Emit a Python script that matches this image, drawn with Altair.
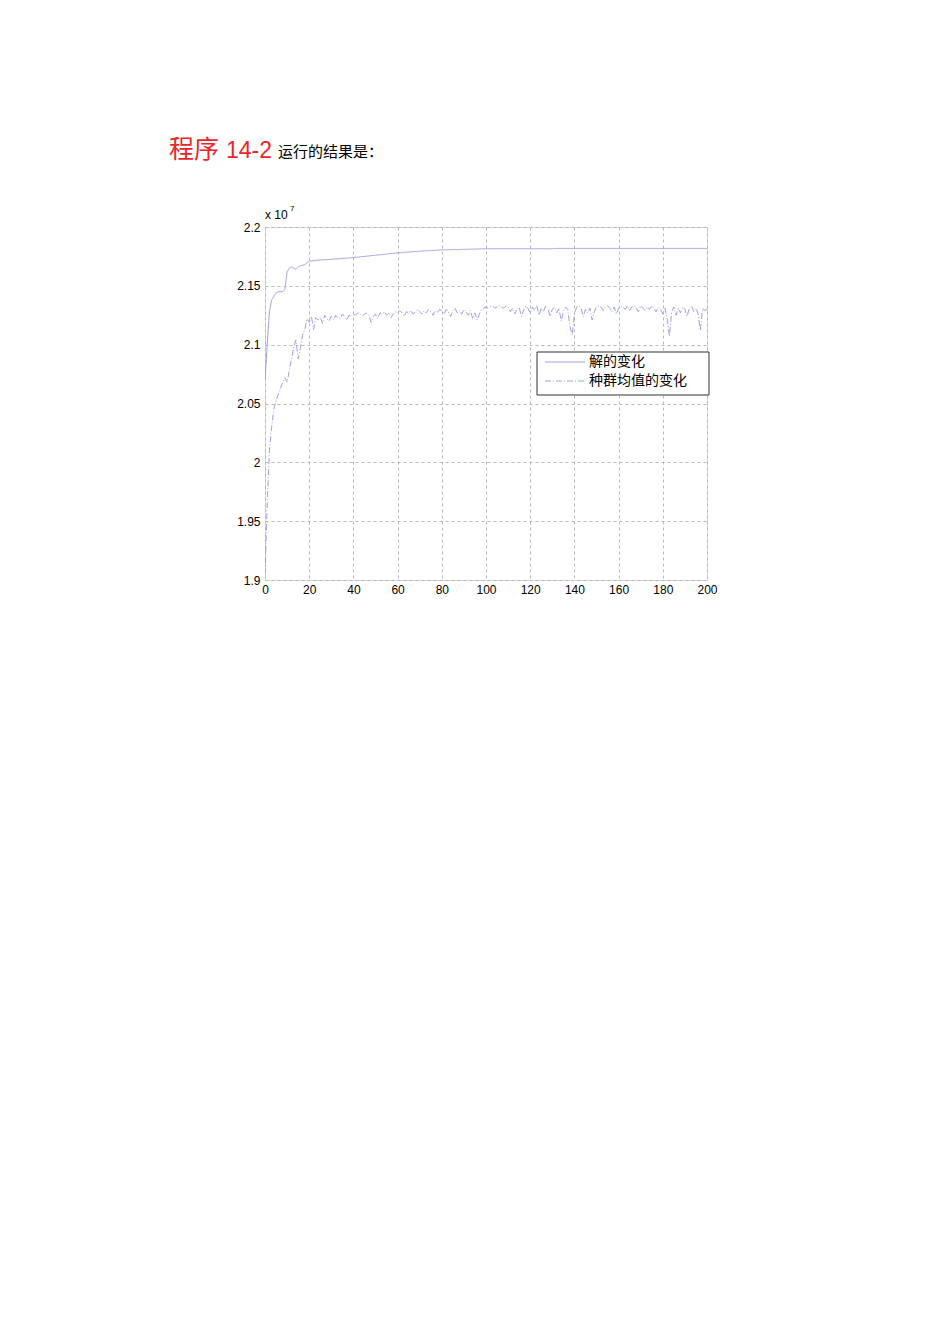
import altair as alt
import pandas as pd

# Generations and values (in units of 1e7)
mean_values = [
    1.905, 1.965, 2.010, 2.030, 2.045, 2.052, 2.058, 2.063, 2.068, 2.072,
    2.068, 2.078, 2.088, 2.098, 2.104, 2.088, 2.097, 2.108, 2.113, 2.122,
    2.119, 2.124, 2.113, 2.123, 2.121, 2.124, 2.118, 2.125, 2.122, 2.120,
    2.124, 2.121, 2.125, 2.123, 2.122, 2.126, 2.124, 2.121, 2.125, 2.124,
    2.126, 2.125, 2.127, 2.126, 2.124, 2.126, 2.127, 2.125, 2.119, 2.124,
    2.126, 2.122, 2.127, 2.126, 2.128, 2.125, 2.127, 2.123, 2.126, 2.128,
    2.127, 2.129, 2.127, 2.124, 2.128, 2.127, 2.129, 2.126, 2.128, 2.130,
    2.128, 2.126, 2.129, 2.127, 2.130, 2.128, 2.125, 2.129, 2.127, 2.130,
    2.129, 2.126, 2.130, 2.128, 2.124, 2.129, 2.131, 2.127, 2.129, 2.126,
    2.130, 2.128, 2.125, 2.129, 2.122, 2.127, 2.121, 2.126, 2.130, 2.131,
    2.132, 2.131, 2.132, 2.133, 2.131, 2.132, 2.133, 2.132, 2.131, 2.133,
    2.132, 2.128, 2.131, 2.126, 2.130, 2.132, 2.124, 2.129, 2.133, 2.131,
    2.127, 2.132, 2.129, 2.133, 2.125, 2.131, 2.128, 2.133, 2.131, 2.124,
    2.130, 2.132, 2.127, 2.131, 2.120, 2.128, 2.132, 2.130, 2.115, 2.108,
    2.126, 2.132, 2.133, 2.131, 2.124, 2.130, 2.127, 2.131, 2.121, 2.128,
    2.132, 2.133, 2.132, 2.129, 2.132, 2.133, 2.131, 2.128, 2.132, 2.126,
    2.131, 2.133, 2.132, 2.130, 2.133, 2.129, 2.132, 2.133, 2.131, 2.128,
    2.133, 2.131, 2.129, 2.132, 2.130, 2.133, 2.131, 2.128, 2.132, 2.130,
    2.126, 2.131, 2.122, 2.107, 2.128, 2.132, 2.125, 2.131, 2.127, 2.132,
    2.130, 2.124, 2.131, 2.133, 2.128, 2.131, 2.126, 2.112, 2.131, 2.129,
    2.130,
]
mean_gen = list(range(len(mean_values)))

best_gen = [0, 1, 2, 3, 4, 5, 6, 8, 9, 10, 11, 12, 13, 14, 15, 16, 18, 20,
            25, 30, 40, 50, 60, 70, 80, 90, 100, 130, 131, 200]
best_values = [2.070, 2.100, 2.128, 2.138, 2.141, 2.144, 2.145, 2.145, 2.147,
               2.162, 2.165, 2.166, 2.165, 2.164, 2.166, 2.167, 2.168, 2.171,
               2.172, 2.1725, 2.174, 2.176, 2.178, 2.1795, 2.1805, 2.181,
               2.1815, 2.1815, 2.1818, 2.1818]

series_names = ["解的变化", "种群均值的变化"]
x_ticks = [0, 20, 40, 60, 80, 100, 120, 140, 160, 180, 200]
y_ticks = [1.9, 1.95, 2.0, 2.05, 2.1, 2.15, 2.2]

df = pd.concat([
    pd.DataFrame({"gen": best_gen, "value": best_values, "series": series_names[0]}),
    pd.DataFrame({"gen": mean_gen, "value": mean_values, "series": series_names[1]}),
])

LINE = "#9494dc"
FONT = "Liberation Sans"
CJK = "Noto Sans CJK SC"
DASHES = [[1, 0], [6, 2, 1, 2]]

lines = alt.Chart(df).mark_line(color=LINE, strokeWidth=0.9, clip=True).encode(
    x=alt.X("gen:Q", scale=alt.Scale(domain=[0, 200], nice=False),
            axis=alt.Axis(values=x_ticks, title=None, grid=True, gridDash=[3, 3],
                          gridColor="#b8b8b8", labelFont=FONT, labelFontSize=12,
                          labelColor="black", tickSize=0, domain=False,
                          labelFlush=False, labelPadding=4)),
    y=alt.Y("value:Q", scale=alt.Scale(domain=[1.9, 2.2], nice=False, zero=False),
            axis=alt.Axis(values=y_ticks, title=None, grid=True, gridDash=[3, 3],
                          gridColor="#b8b8b8", labelFont=FONT, labelFontSize=12,
                          labelColor="black", tickSize=0, domain=False,
                          labelFlush=False, labelPadding=5,
                          labelExpr="format(datum.value, '~g')")),
    strokeDash=alt.StrokeDash("series:N",
                              scale=alt.Scale(domain=series_names, range=DASHES),
                              legend=None),
)

one = pd.DataFrame({"k": [0]})


def label(text, x, y, size, color="black", font=FONT, baseline="alphabetic"):
    return alt.Chart(pd.DataFrame({"t": [text]})).mark_text(
        align="left", baseline=baseline, fontSize=size, color=color, font=font
    ).encode(text="t:N", x=alt.value(x), y=alt.value(y))


# Manual legend box
legend_box = alt.Chart(one).mark_rect(fill="white", stroke="#333", strokeWidth=1).encode(
    x=alt.value(272), x2=alt.value(444), y=alt.value(125), y2=alt.value(168))
leg_line1 = alt.Chart(one).mark_rule(color=LINE, strokeWidth=0.9).encode(
    x=alt.value(280), x2=alt.value(320), y=alt.value(135))
leg_line2 = alt.Chart(one).mark_rule(color=LINE, strokeWidth=0.9,
                                     strokeDash=DASHES[1]).encode(
    x=alt.value(280), x2=alt.value(320), y=alt.value(154))
leg_text1 = label(series_names[0], 324, 135, 14, font=CJK, baseline="middle")
leg_text2 = label(series_names[1], 324, 154, 14, font=CJK, baseline="middle")

title1 = label("程序", -96, -69, 25, color="#e8262a", font=CJK)
title2 = label("14-2", -39, -69, 23, color="#e8262a", font=FONT)
title3 = label("运行的结果是：", 13, -70, 15, font=CJK)
exp1 = label("x 10", 0, -8, 12)
exp2 = label("7", 25, -16, 8)

chart = alt.layer(lines, legend_box, leg_line1, leg_line2, leg_text1, leg_text2,
                  title1, title2, title3, exp1, exp2).properties(
    width=442, height=353,
    autosize=alt.AutoSizeParams(type="none"),
    padding={"left": 257, "top": 219, "right": 235, "bottom": 756},
).configure_view(stroke="#333", strokeWidth=1).configure(background="white")

chart.save("out.html", embed_options={"renderer": "svg", "actions": False})
